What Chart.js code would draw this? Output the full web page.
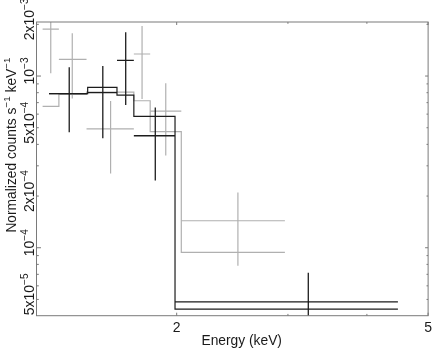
<!DOCTYPE html>
<html><head><meta charset="utf-8">
<script src="https://cdn.jsdelivr.net/npm/chart.js@4/dist/chart.umd.min.js"></script>
<style>html,body{margin:0;padding:0;background:#fff}#wrap{width:436px;height:351px;position:relative}</style>
</head><body><div id="wrap"><canvas id="c" width="436" height="351"></canvas></div>
<script>
// ---- black data set (energies in keV, rates in counts s^-1 keV^-1) ----
const blackBinLo  = [1.256, 1.446, 1.609, 1.711, 1.988];
const blackBinHi  = [1.446, 1.609, 1.711, 1.988, 4.479];
const blackEnergy = [1.352, 1.528, 1.661, 1.850, 3.231];
const blackRate   = [7.90e-4, 8.00e-4, 1.235e-3, 4.49e-4, 4.84e-5];
const blackErrLo  = [4.70e-4, 4.34e-4, 6.78e-4, 2.46e-4, 3.0e-5];
const blackErrHi  = [1.124e-3, 1.144e-3, 1.797e-3, 6.55e-4, 7.15e-5];
const blackModel  = [7.90e-4, 8.60e-4, 7.75e-4, 5.82e-4, 4.39e-5];

// ---- grey data set ----
const greyBinLo  = [1.227, 1.302, 1.440, 1.711, 1.816, 2.034];
const greyBinHi  = [1.302, 1.440, 1.711, 1.816, 2.034, 2.967];
const greyEnergy = [1.264, 1.367, 1.572, 1.763, 1.922, 2.500];
const greyRate   = [1.878e-3, 1.251e-3, 4.93e-4, 1.344e-3, 6.25e-4, 1.436e-4];
const greyErrLo  = [1.037e-3, 7.41e-4, 2.71e-4, 7.35e-4, 3.45e-4, 7.85e-5];
const greyErrHi  = [2.4e-3, 1.773e-3, 7.15e-4, 1.956e-3, 9.07e-4, 2.10e-4];
const greyModel  = [6.66e-4, 7.82e-4, 8.07e-4, 7.18e-4, 4.74e-4, 9.40e-5];

// ---- axes ----
const xMin = 1.2, xMax = 5;
const yMin = 4.02e-5, yMax = 2.064e-3;
const xTickValues = [2, 3, 4, 5];
const xTickLabels = ['2', '', '', '5'];
const xMajorTicks = [2, 5];
const yTickValues = [5e-5, 6e-5, 7e-5, 8e-5, 9e-5, 1e-4, 2e-4, 3e-4, 4e-4, 5e-4, 6e-4, 7e-4, 8e-4, 9e-4, 1e-3, 2e-3];
const yMajorTicks = [1e-4, 1e-3];
const yLabelValues   = [5e-5, 1e-4, 2e-4, 5e-4, 1e-3, 2e-3];
const yLabelMantissa = ['5', '', '2', '5', '', '2'];
const yLabelExponent = ['\u22125', '\u22124', '\u22124', '\u22124', '\u22123', '\u22123'];
const xTitle = 'Energy (keV)';
const yTitleParts = [['Normalized counts s', false], ['\u22121', true], [' keV', false], ['\u22121', true]];

const BLACK = '#1c1c1c', GREY = '#b0b0b0', FRAME = '#7a7a7a', TEXT = '#1a1a1a';
const FONT = '"Liberation Sans", Arial, Helvetica, sans-serif';

function crosses(lo, hi, e, r, el, eh) {
  const pts = [];
  for (let i = 0; i < e.length; i++) {
    pts.push({x: lo[i], y: r[i]}, {x: hi[i], y: r[i]}, {x: e[i], y: null});
    pts.push({x: e[i], y: el[i]}, {x: e[i], y: eh[i]}, {x: e[i], y: null});
  }
  return pts;
}
function steps(lo, hi, m) {
  const pts = [];
  for (let i = 0; i < m.length; i++) pts.push({x: lo[i], y: m[i]}, {x: hi[i], y: m[i]});
  return pts;
}
function ds(data, color, w) {
  return {data, borderColor: color, backgroundColor: color, borderWidth: w, showLine: true,
          pointRadius: 0, pointHoverRadius: 0, spanGaps: false, tension: 0, fill: false};
}

function drawParts(ctx, parts, size, start) {
  let x = start;
  for (const [t, sup] of parts) {
    ctx.font = (sup ? size * 0.72 : size) + 'px ' + FONT;
    ctx.fillText(t, x, sup ? -size * 0.42 : 0);
    x += ctx.measureText(t).width;
  }
}
function partsWidth(ctx, parts, size) {
  let w = 0;
  for (const [t, sup] of parts) { ctx.font = (sup ? size * 0.72 : size) + 'px ' + FONT; w += ctx.measureText(t).width; }
  return w;
}

const framePlugin = {
  id: 'frame',
  afterDraw(chart) {
    const {ctx, chartArea: a, scales: {x, y}} = chart;
    ctx.save();
    ctx.strokeStyle = FRAME; ctx.lineWidth = 1;
    ctx.strokeRect(a.left, a.top, a.right - a.left, a.bottom - a.top);
    ctx.beginPath();
    x.ticks.forEach(t => {
      const px = x.getPixelForValue(t.value);
      const len = xMajorTicks.includes(t.value) ? 3 : 1.8;
      ctx.moveTo(px, a.bottom); ctx.lineTo(px, a.bottom - len);
      ctx.moveTo(px, a.top); ctx.lineTo(px, a.top + len);
    });
    y.ticks.forEach(t => {
      const py = y.getPixelForValue(t.value);
      const major = yMajorTicks.includes(t.value);
      ctx.moveTo(a.left, py); ctx.lineTo(a.left + (major ? 4.5 : 2.3), py);
      ctx.moveTo(a.right, py); ctx.lineTo(a.right - (major ? 3 : 1.6), py);
    });
    ctx.stroke();

    ctx.fillStyle = TEXT;
    ctx.textAlign = 'left'; ctx.textBaseline = 'alphabetic';
    const size = 14;
    yLabelValues.forEach((v, i) => {
      const py = y.getPixelForValue(v);
      const parts = [[(yLabelMantissa[i] ? yLabelMantissa[i] + 'x' : '') + '10', false], [yLabelExponent[i], true]];
      const w = partsWidth(ctx, parts, size);
      ctx.save();
      ctx.translate(a.left - 2.5, py);
      ctx.rotate(-Math.PI / 2);
      drawParts(ctx, parts, size, 5 - w / 2);
      ctx.restore();
    });
    // y title
    const ts = 13.8;
    const tw = partsWidth(ctx, yTitleParts, ts);
    ctx.save();
    ctx.translate(a.left - 20.5, a.top + 123);
    ctx.rotate(-Math.PI / 2);
    drawParts(ctx, yTitleParts, ts, -tw / 2);
    ctx.restore();
    // x title
    ctx.font = ts + 'px ' + FONT;
    ctx.textAlign = 'center';
    ctx.fillText(xTitle, 241.7, a.bottom + 29);
    ctx.restore();
  }
};

new Chart(document.getElementById('c'), {
  type: 'scatter',
  data: {datasets: [
    ds(crosses(blackBinLo, blackBinHi, blackEnergy, blackRate, blackErrLo, blackErrHi), BLACK, 1.3),
    ds(steps(blackBinLo, blackBinHi, blackModel), BLACK, 1.2),
    ds(crosses(greyBinLo, greyBinHi, greyEnergy, greyRate, greyErrLo, greyErrHi), GREY, 1.2),
    ds(steps(greyBinLo, greyBinHi, greyModel), GREY, 1.2)
  ]},
  options: {
    responsive: false, animation: false, devicePixelRatio: 1,
    layout: {padding: {top: 22, right: 3.7, left: 0, bottom: 0}},
    plugins: {legend: {display: false}, tooltip: {enabled: false}},
    scales: {
      x: {type: 'logarithmic', min: xMin, max: xMax, position: 'bottom',
          grid: {display: false, drawTicks: false}, border: {display: false},
          afterBuildTicks: s => { s.ticks = xTickValues.map(v => ({value: v, major: xMajorTicks.includes(v)})); },
          afterFit: s => { s.height = 35.3; },
          ticks: {autoSkip: false, maxRotation: 0, minRotation: 0, padding: 4, color: TEXT,
                  font: {family: FONT, size: 14}, callback: (v, i) => xTickLabels[i]}},
      y: {type: 'logarithmic', min: yMin, max: yMax, position: 'left',
          grid: {display: false, drawTicks: false}, border: {display: false},
          afterBuildTicks: s => { s.ticks = yTickValues.map(v => ({value: v, major: yMajorTicks.includes(v)})); },
          afterFit: s => { s.width = 36.5; },
          ticks: {display: false}}
    }
  },
  plugins: [framePlugin]
});
</script></body></html>
